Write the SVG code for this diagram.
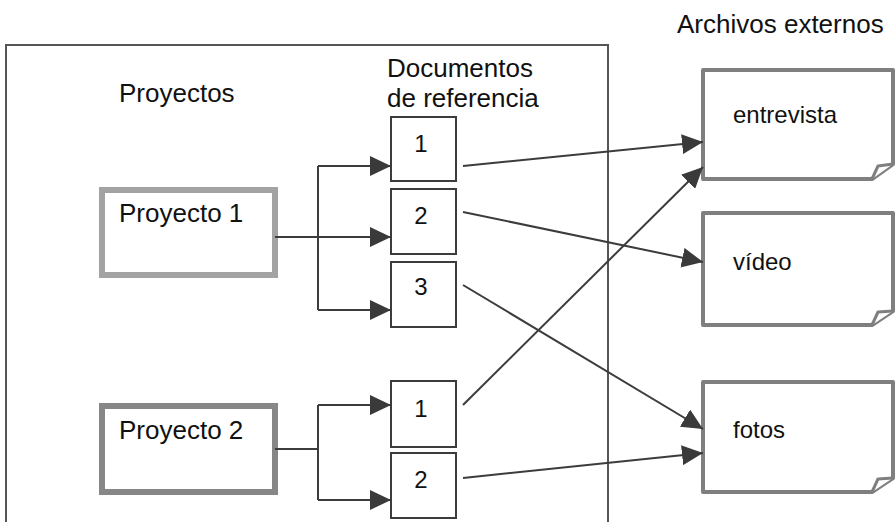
<svg xmlns="http://www.w3.org/2000/svg" width="896" height="522" viewBox="0 0 896 522">
<defs>
<style>
text{font-family:"Liberation Sans",Arial,sans-serif;fill:#111;}
.lbl{font-size:26px;}
.num{font-size:24px;text-anchor:middle;}
.ext{font-size:24px;}
.doc{fill:#fff;stroke:#3c3c3c;stroke-width:2;}
.file{fill:#fff;stroke:#7f7f7f;stroke-width:4;stroke-linejoin:round;}
.fold{fill:#fff;stroke:#7f7f7f;stroke-width:3;stroke-linejoin:round;}
.con{fill:none;stroke:#3c3c3c;stroke-width:2;}
.arr{marker-end:url(#ah);}
</style>
<marker id="ah" markerUnits="userSpaceOnUse" markerWidth="21" markerHeight="20" refX="21" refY="10" orient="auto">
<path d="M0,0 L21,10 L0,20 Z" fill="#3a3a3a"/>
</marker>
</defs>
<rect width="896" height="522" fill="#fff"/>
<g id="frame">
<rect x="6" y="45" width="602" height="500" fill="none" stroke="#555" stroke-width="2"/>
</g>
<g id="headers">
<text class="lbl" x="677" y="33">Archivos externos</text>
<text class="lbl" x="119" y="102">Proyectos</text>
<text class="lbl" x="387" y="77">Documentos</text>
<text class="lbl" x="387" y="107">de referencia</text>
</g>
<g id="proyecto1">
<rect x="102" y="190" width="173" height="85" fill="#fff" stroke="#a3a3a3" stroke-width="6"/>
<text class="lbl" x="119" y="222">Proyecto 1</text>
</g>
<g id="proyecto2">
<rect x="102" y="406" width="173" height="86" fill="#fff" stroke="#878787" stroke-width="6"/>
<text class="lbl" x="119" y="439">Proyecto 2</text>
</g>
<g id="doc-p1-1"><rect class="doc" x="391" y="117" width="65" height="64"/><text class="num" x="421" y="152">1</text></g>
<g id="doc-p1-2"><rect class="doc" x="391" y="189" width="65" height="65"/><text class="num" x="421" y="224">2</text></g>
<g id="doc-p1-3"><rect class="doc" x="391" y="262" width="65" height="65"/><text class="num" x="421" y="295">3</text></g>
<g id="doc-p2-1"><rect class="doc" x="391" y="381" width="65" height="66"/><text class="num" x="421" y="417">1</text></g>
<g id="doc-p2-2"><rect class="doc" x="391" y="453" width="65" height="65"/><text class="num" x="421" y="488">2</text></g>
<g id="entrevista">
<path class="file" d="M703,70 H893 V164 L872,179 H703 Z"/>
<path class="fold" d="M872,179 L878,166 L893,164"/>
<text class="ext" x="733" y="123">entrevista</text>
</g>
<g id="video">
<path class="file" d="M703,213 H893 V311 L872,325 H703 Z"/>
<path class="fold" d="M872,325 L878,312 L893,311"/>
<text class="ext" x="733" y="270">vídeo</text>
</g>
<g id="fotos">
<path class="file" d="M703,382 H893 V478 L872,492 H703 Z"/>
<path class="fold" d="M872,492 L878,479 L893,478"/>
<text class="ext" x="733" y="438">fotos</text>
</g>
<g id="connectors">
<path class="con" d="M275,237 H318"/>
<path class="con" d="M318,166 V310"/>
<path class="con arr" d="M318,166 H391"/>
<path class="con arr" d="M318,237 H391"/>
<path class="con arr" d="M318,310 H391"/>
<path class="con" d="M275,449 H318"/>
<path class="con" d="M318,405 V500"/>
<path class="con arr" d="M318,405 H391"/>
<path class="con arr" d="M318,500 H391"/>
<path class="con arr" d="M463,166 L703,142"/>
<path class="con arr" d="M463,212 L703,262"/>
<path class="con arr" d="M463,285 L703,429"/>
<path class="con arr" d="M463,405 L703,167"/>
<path class="con arr" d="M463,478 L703,453"/>
</g>
</svg>
